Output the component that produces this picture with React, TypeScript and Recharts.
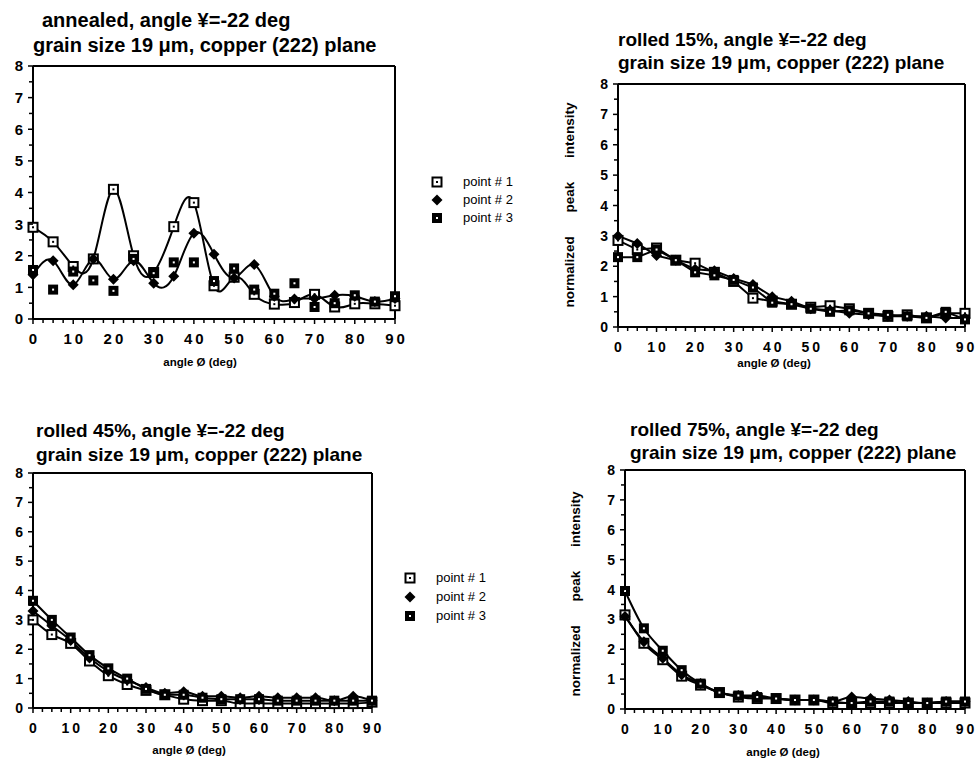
import React from "react";
import { LineChart, Line, XAxis, YAxis, ReferenceLine } from "recharts";

// angle Ø (deg)
const angles = [0, 5, 10, 15, 20, 25, 30, 35, 40, 45, 50, 55, 60, 65, 70, 75, 80, 85, 90];

// annealed
const annP1 = [2.9, 2.44, 1.66, 1.9, 4.1, 2.0, 1.47, 2.92, 3.68, 1.05, 1.32, 0.78, 0.47, 0.52, 0.78, 0.38, 0.48, 0.48, 0.42];
const annP2 = [1.4, 1.84, 1.08, 1.9, 1.26, 1.84, 1.13, 1.35, 2.71, 2.05, 1.3, 1.72, 0.72, 0.63, 0.65, 0.75, 0.72, 0.55, 0.65];
const annP3 = [1.55, 0.93, 1.5, 1.22, 0.89, 1.9, 1.45, 1.79, 1.79, 1.2, 1.6, 0.93, 0.8, 1.13, 0.38, 0.5, 0.75, 0.55, 0.72];

// rolled 15%
const r15P1 = [2.85, 2.55, 2.6, 2.2, 2.1, 1.8, 1.5, 0.95, 0.85, 0.75, 0.65, 0.7, 0.6, 0.45, 0.35, 0.4, 0.3, 0.45, 0.45];
const r15P2 = [3.0, 2.75, 2.35, 2.2, 1.9, 1.85, 1.6, 1.4, 1.0, 0.85, 0.6, 0.55, 0.45, 0.4, 0.35, 0.35, 0.35, 0.3, 0.3];
const r15P3 = [2.3, 2.3, 2.55, 2.2, 1.8, 1.7, 1.55, 1.3, 0.8, 0.75, 0.6, 0.5, 0.55, 0.45, 0.4, 0.35, 0.3, 0.5, 0.25];

// rolled 45%
const r45P1 = [3.0, 2.5, 2.2, 1.6, 1.1, 0.8, 0.6, 0.45, 0.3, 0.25, 0.25, 0.15, 0.15, 0.15, 0.15, 0.15, 0.15, 0.15, 0.2];
const r45P2 = [3.3, 2.8, 2.3, 1.7, 1.25, 0.95, 0.7, 0.5, 0.55, 0.4, 0.4, 0.35, 0.4, 0.35, 0.35, 0.35, 0.25, 0.4, 0.25];
const r45P3 = [3.65, 3.0, 2.4, 1.8, 1.35, 1.0, 0.65, 0.45, 0.45, 0.35, 0.3, 0.3, 0.3, 0.25, 0.25, 0.25, 0.25, 0.25, 0.25];

// rolled 75%
const r75P1 = [3.15, 2.2, 1.65, 1.1, 0.8, 0.55, 0.4, 0.35, 0.35, 0.3, 0.3, 0.2, 0.2, 0.2, 0.2, 0.2, 0.2, 0.2, 0.2];
const r75P2 = [3.1, 2.25, 1.7, 1.15, 0.85, 0.55, 0.45, 0.45, 0.35, 0.3, 0.3, 0.25, 0.4, 0.35, 0.3, 0.25, 0.2, 0.25, 0.25];
const r75P3 = [3.95, 2.7, 1.95, 1.3, 0.85, 0.55, 0.45, 0.4, 0.35, 0.3, 0.3, 0.25, 0.2, 0.25, 0.25, 0.2, 0.2, 0.25, 0.25];

const xTicks = [0, 2.5, 5, 7.5, 10, 12.5, 15, 17.5, 20, 22.5, 25, 27.5, 30, 32.5, 35, 37.5, 40, 42.5, 45, 47.5, 50, 52.5, 55, 57.5, 60, 62.5, 65, 67.5, 70, 72.5, 75, 77.5, 80, 82.5, 85, 87.5, 90];
const yTicks = [0, 0.5, 1, 1.5, 2, 2.5, 3, 3.5, 4, 4.5, 5, 5.5, 6, 6.5, 7, 7.5, 8];
const legendNames = ["point # 1", "point # 2", "point # 3"];

const FONT = '"Liberation Sans", Arial, Helvetica, sans-serif';

type Kind = "open" | "diamond" | "filled";
const kinds: Kind[] = ["open", "diamond", "filled"];

function Marker({ cx, cy, kind }: { cx: number; cy: number; kind: Kind }) {
  if (kind === "diamond") {
    const r = 5.5;
    return <path d={`M${cx},${cy - r}L${cx + r},${cy}L${cx},${cy + r}L${cx - r},${cy}Z`} fill="#000" />;
  }
  if (kind === "open") {
    return (
      <g>
        <rect x={cx - 4.5} y={cy - 4.5} width={9} height={9} fill="#fff" stroke="#000" strokeWidth={2} />
        <rect x={cx - 1} y={cy - 1} width={2} height={2} fill="#000" />
      </g>
    );
  }
  return (
    <g>
      <rect x={cx - 5} y={cy - 5} width={10} height={10} fill="#000" />
      <rect x={cx - 1} y={cy - 1} width={2} height={2} fill="#fff" />
    </g>
  );
}

const makeDot = (kind: Kind) => (p: any) => (
  <g key={`d${p.index}`}>
    {p.cx != null && p.cy != null ? <Marker cx={p.cx} cy={p.cy} kind={kind} /> : null}
  </g>
);

type Box = { x: number; y: number; w: number; h: number };

interface PanelProps {
  box: Box;
  series: number[][];
  curve: "linear" | "monotone" | "natural";
  noLine?: boolean[];
  tickFont: number;
}

function Panel({ box, series, curve, noLine = [], tickFont }: PanelProps) {
  const data = angles.map((a, i) => ({ angle: a, p1: series[0][i], p2: series[1][i], p3: series[2][i] }));
  const m = { top: 10, right: 16, bottom: 10, left: 10 };

  const YTick = (p: any) => {
    const v = p.payload.value;
    const major = Number.isInteger(v);
    return (
      <g>
        <line x1={p.x} x2={p.x - (major ? 5 : 4)} y1={p.y} y2={p.y} stroke="#000" strokeWidth={1.5} />
        {major && (
          <text x={p.x - 10} y={p.y} dy="0.36em" textAnchor="end" fontFamily={FONT} fontWeight="bold" fontSize={tickFont} fill="#000">
            {v}
          </text>
        )}
      </g>
    );
  };

  const XTick = (p: any) => {
    const v = p.payload.value;
    const major = v % 10 === 0;
    return (
      <g>
        <line x1={p.x} x2={p.x} y1={p.y} y2={p.y + (major ? 5 : 4)} stroke="#000" strokeWidth={1.5} />
        {major && (
          <text x={p.x + 1.5} y={p.y + 20} dy="0.36em" textAnchor="middle" fontFamily={FONT} fontWeight="bold" fontSize={tickFont} letterSpacing={3} fill="#000">
            {v}
          </text>
        )}
      </g>
    );
  };

  return (
    <div style={{ position: "absolute", left: box.x - 40, top: box.y - 10 }}>
      <LineChart width={box.w + 56} height={box.h + 50} data={data} margin={m}>
        <XAxis
          dataKey="angle"
          type="number"
          domain={[0, 90]}
          ticks={xTicks}
          interval={0}
          height={30}
          tickSize={0}
          tickMargin={0}
          tickLine={false}
          axisLine={{ stroke: "#000", strokeWidth: 2 }}
          tick={XTick}
        />
        <YAxis
          type="number"
          domain={[0, 8]}
          ticks={yTicks}
          interval={0}
          width={30}
          tickSize={0}
          tickMargin={0}
          tickLine={false}
          axisLine={{ stroke: "#000", strokeWidth: 2 }}
          tick={YTick}
        />
        <ReferenceLine y={8} stroke="#000" strokeWidth={2} />
        <ReferenceLine x={90} stroke="#000" strokeWidth={2} />
        {(["p1", "p2", "p3"] as const).map((k, i) => (
          <Line
            key={k}
            dataKey={k}
            type={curve}
            stroke={noLine[i] ? "none" : "#000"}
            strokeWidth={2}
            dot={makeDot(kinds[i])}
            activeDot={false}
            isAnimationActive={false}
          />
        ))}
      </LineChart>
    </div>
  );
}

function Title({ x, y, size, text }: { x: number; y: number; size: number; text: string }) {
  return (
    <div
      style={{
        position: "absolute",
        left: x,
        top: y - size * 0.6,
        fontFamily: FONT,
        fontWeight: "bold",
        fontSize: size,
        lineHeight: `${size * 1.2}px`,
        whiteSpace: "nowrap",
        color: "#000",
      }}
    >
      {text}
    </div>
  );
}

function XLabel({ x, y }: { x: number; y: number }) {
  return (
    <div
      style={{
        position: "absolute",
        left: x,
        top: y,
        transform: "translate(-50%, -50%)",
        fontFamily: FONT,
        fontWeight: "bold",
        fontSize: 11.5,
        whiteSpace: "nowrap",
      }}
    >
      angle Ø (deg)
    </div>
  );
}

function YLabel({ x, y }: { x: number; y: number }) {
  return (
    <div
      style={{
        position: "absolute",
        left: x,
        top: y,
        transform: "translate(-50%, -50%) rotate(-90deg)",
        fontFamily: FONT,
        fontWeight: "bold",
        fontSize: 13.5,
        wordSpacing: 20,
        whiteSpace: "nowrap",
      }}
    >
      normalized peak intensity
    </div>
  );
}

function Legend({ x, textX, rows }: { x: number; textX: number; rows: number[] }) {
  return (
    <>
      {rows.map((ry, i) => (
        <React.Fragment key={i}>
          <svg style={{ position: "absolute", left: x - 7, top: ry - 7 }} width={14} height={14}>
            <Marker cx={7} cy={7} kind={kinds[i]} />
          </svg>
          <div
            style={{
              position: "absolute",
              left: textX,
              top: ry - 8,
              lineHeight: "16px",
              fontFamily: FONT,
              fontSize: 13,
              whiteSpace: "nowrap",
            }}
          >
            {legendNames[i]}
          </div>
        </React.Fragment>
      ))}
    </>
  );
}

export default function App() {
  return (
    <div style={{ position: "absolute", left: 0, top: 0, width: 977, height: 760, background: "#fff", overflow: "hidden" }}>
      <Title x={42} y={20} size={20} text="annealed, angle ¥=-22 deg" />
      <Title x={33} y={45} size={20} text="grain size 19 μm, copper (222) plane" />
      <Panel box={{ x: 33, y: 66, w: 362, h: 253 }} series={[annP1, annP2, annP3]} curve="natural" noLine={[false, false, true]} tickFont={15} />
      <XLabel x={200} y={362} />
      <Legend x={437} textX={463} rows={[182, 200, 218]} />

      <Title x={618} y={40} size={19} text="rolled 15%, angle ¥=-22 deg" />
      <Title x={618} y={63} size={19} text="grain size 19 μm, copper (222) plane" />
      <Panel box={{ x: 618, y: 84, w: 347, h: 243 }} series={[r15P1, r15P2, r15P3]} curve="linear" tickFont={14} />
      <XLabel x={774} y={363} />
      <YLabel x={569} y={205} />

      <Title x={36} y={431} size={19} text="rolled 45%, angle ¥=-22 deg" />
      <Title x={36} y={455} size={19} text="grain size 19 μm, copper (222) plane" />
      <Panel box={{ x: 33, y: 473, w: 339, h: 235 }} series={[r45P1, r45P2, r45P3]} curve="monotone" tickFont={14} />
      <XLabel x={189} y={750} />
      <Legend x={410} textX={436} rows={[578, 597, 616]} />

      <Title x={630} y={430} size={19} text="rolled 75%, angle ¥=-22 deg" />
      <Title x={630} y={453} size={19} text="grain size 19 μm, copper (222) plane" />
      <Panel box={{ x: 625, y: 470, w: 340, h: 239 }} series={[r75P1, r75P2, r75P3]} curve="monotone" tickFont={14} />
      <XLabel x={783} y={752} />
      <YLabel x={575} y={594} />
    </div>
  );
}
